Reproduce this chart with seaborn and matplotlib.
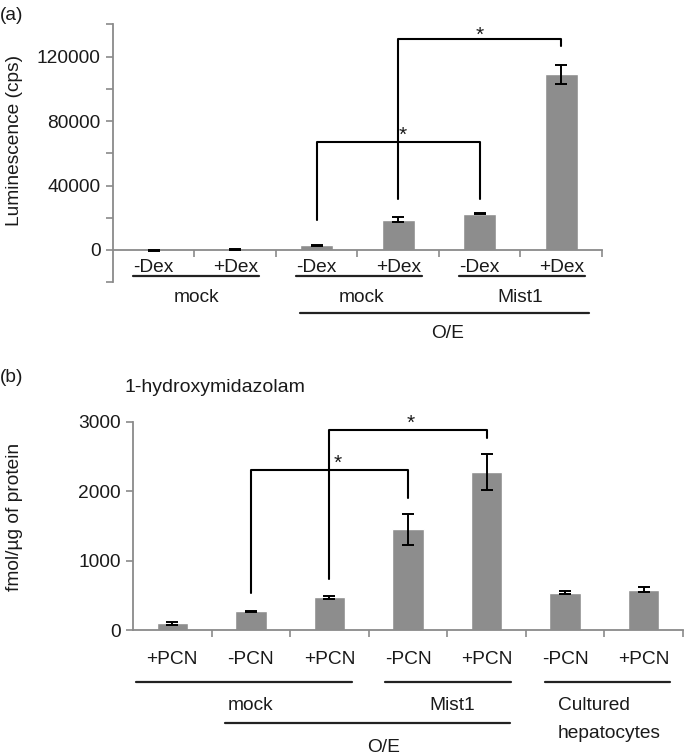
import numpy as np
import pandas as pd
import matplotlib
matplotlib.use("Agg")
import matplotlib.pyplot as plt
import matplotlib.transforms as mtransforms
from matplotlib.lines import Line2D
import seaborn as sns

# ---------------- data ----------------
a_conditions = ["-Dex", "+Dex", "-Dex", "+Dex", "-Dex", "+Dex"]
a_groups = ["mock", "mock", "mock", "mock", "Mist1", "Mist1"]
a_values = [-300, 400, 2900, 18900, 22600, 109000]
a_errors = [200, 400, 300, 1400, 500, 5700]
a_yticks = [0, 40000, 80000, 120000]
a_minor = [-20000, 20000, 60000, 100000, 140000]
# brackets: (left x, right x, left foot, top, right foot, star x, star y)
a_brackets = [(2, 4, 18700, 66800, 31500, 3.05, 73300),
              (3, 5, 31500, 131200, 126600, 4.0, 135300)]

b_conditions = ["+PCN", "-PCN", "+PCN", "-PCN", "+PCN", "-PCN", "+PCN"]
b_values = [100, 273, 474, 1452, 2276, 541, 585]
b_errors = [25, 10, 20, 225, 255, 25, 40]
b_yticks = [0, 1000, 2000, 3000]
b_brackets = [(1, 3, 540, 2308, 1900, 2.11, 2450),
              (2, 4, 734, 2885, 2765, 3.03, 3025)]

W, H = 685, 756
BAR = "#8d8d8d"
SPINE = "#8a8a8a"
TXT = "#1a1a1a"
FS = 13.8

sns.set_style("white")
plt.rcParams["font.family"] = ["Liberation Sans", "DejaVu Sans"]

fig = plt.figure(figsize=(W / 100, H / 100), dpi=100)


def fy(py):
    return 1 - py / H


def make_panel(rect, conds, vals, errs, ylim, yticks, minor, brackets):
    ax = fig.add_axes(rect)
    n = len(vals)
    df = pd.DataFrame({"key": [f"{i}" for i in range(n)], "cond": conds, "value": vals})
    sns.barplot(data=df, x="key", y="value", color=BAR, width=0.4, errorbar=None,
                ax=ax, saturation=1)
    ax.errorbar(np.arange(n), vals, yerr=errs, fmt="none", ecolor="black",
                elinewidth=1.4, capsize=4.5, capthick=1.4, zorder=3)
    ax.set_xlim(-0.5, n - 0.5)
    ax.set_ylim(*ylim)
    ax.set_xlabel("")
    ax.set_ylabel("")
    for s in ["top", "right"]:
        ax.spines[s].set_visible(False)
    ax.spines["bottom"].set_position(("data", 0))
    for s in ["left", "bottom"]:
        ax.spines[s].set_color(SPINE)
        ax.spines[s].set_linewidth(1.3)
    ax.set_xticks(np.arange(0.5, n, 1.0))
    ax.set_xticklabels([])
    ax.set_yticks(yticks)
    ax.set_yticklabels([f"{t}" for t in yticks], fontsize=FS, color=TXT)
    if minor:
        ax.set_yticks(minor, minor=True)
    ax.tick_params(axis="both", which="both", direction="out", length=5,
                   width=1.2, color=SPINE, left=True, bottom=True, pad=4)
    ax.grid(False)
    off = mtransforms.offset_copy(ax.transData, fig=fig, x=0, y=-3, units="dots")
    for (x0, x1, yl, yt, yr, xs, ys) in brackets:
        ax.plot([x0, x0, x1, x1], [yl, yt, yt, yr], color="black", lw=1.5,
                clip_on=False, zorder=4)
        ax.text(xs, ys, "*", ha="center", va="center", transform=off,
                fontsize=15, color=TXT, clip_on=False)
    return ax


def hline(ax, x0, x1, py):
    tr = mtransforms.blended_transform_factory(ax.transData, fig.transFigure)
    ax.add_line(Line2D([x0, x1], [fy(py), fy(py)], transform=tr, color="#222222",
                       lw=1.6, clip_on=False))


def label(ax, x, py, s, ha="center"):
    tr = mtransforms.blended_transform_factory(ax.transData, fig.transFigure)
    ax.text(x, fy(py), s, transform=tr, ha=ha, va="center", fontsize=FS, color=TXT)


# ---------------- panel (a) ----------------
axa = make_panel([113 / W, fy(282.2), 489 / W, (282.2 - 24.5) / H],
                 a_conditions, a_values, a_errors, (-20000, 140000), a_yticks,
                 a_minor, a_brackets)
for i, c in enumerate(a_conditions):
    label(axa, i, 267, c)
for (x0, x1) in [(0, 1), (2, 3), (4, 5)]:
    hline(axa, x0 - 0.26, x1 + 0.29, 275.5)
label(axa, 0.53, 298, "mock")
label(axa, 2.55, 298, "mock")
label(axa, 4.5, 298, "Mist1")
hline(axa, 1.79, 5.34, 312.7)
label(axa, 3.6, 333, "O/E")
fig.text(15 / W, fy(140), "Luminescence (cps)", rotation=90, ha="center",
         va="center", fontsize=FS, color=TXT)
fig.text(0.0, fy(16), "(a)", ha="left", va="center", fontsize=FS, color=TXT)

# ---------------- panel (b) ----------------
axb = make_panel([133 / W, fy(630.3), 550 / W, (630.3 - 421.7) / H],
                 b_conditions, b_values, b_errors, (0, 3000), b_yticks,
                 None, b_brackets)
for i, c in enumerate(b_conditions):
    label(axb, i, 660, c)
hline(axb, -0.46, 2.29, 681.5)
hline(axb, 2.71, 4.31, 681.5)
hline(axb, 4.74, 6.34, 681.5)
label(axb, 0.99, 705, "mock")
label(axb, 3.56, 705, "Mist1")
label(axb, 4.91, 705, "Cultured", ha="left")
label(axb, 4.91, 733, "hepatocytes", ha="left")
hline(axb, 0.67, 4.30, 722.7)
label(axb, 2.69, 747, "O/E")
fig.text(15 / W, fy(517), "fmol/\u00b5g of protein", rotation=90, ha="center",
         va="center", fontsize=FS, color=TXT)
fig.text(0.0, fy(378), "(b)", ha="left", va="center", fontsize=FS, color=TXT)
fig.text(125 / W, fy(388), "1-hydroxymidazolam", ha="left", va="center",
         fontsize=14, color=TXT)

fig.savefig("out.png", dpi=100)
